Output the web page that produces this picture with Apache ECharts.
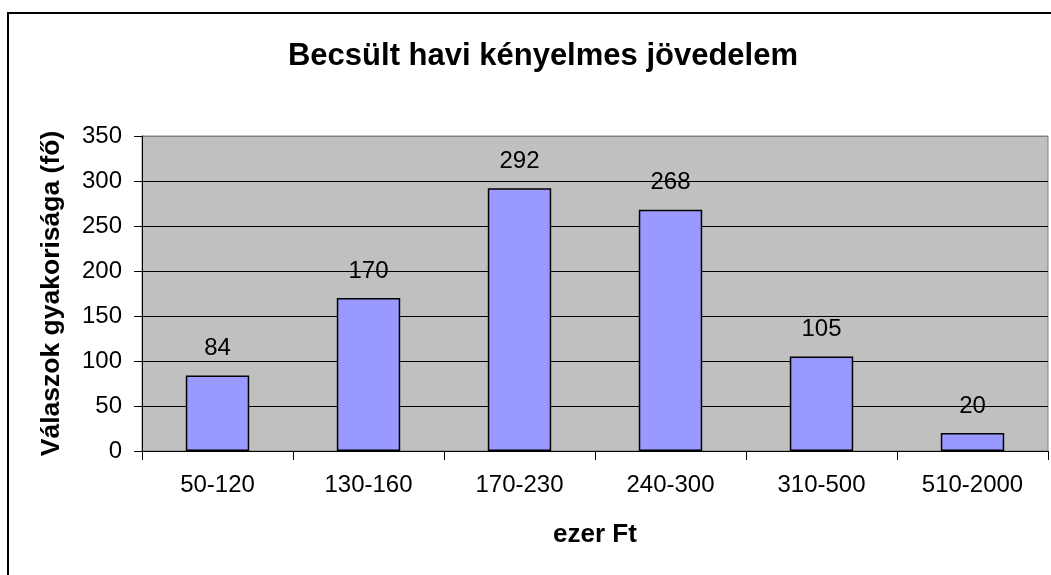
<!doctype html>
<html>
<head>
<meta charset="utf-8">
<title>Becsült havi kényelmes jövedelem</title>
<script src="https://cdn.jsdelivr.net/npm/echarts@6/dist/echarts.min.js"></script>
<style>
  html, body { margin: 0; padding: 0; background: #fff; }
  #chart { width: 1051px; height: 575px; }
</style>
</head>
<body>
<div id="chart"></div>
<script>
var titleText = 'Becsült havi kényelmes jövedelem';
var categories = ['50-120', '130-160', '170-230', '240-300', '310-500', '510-2000'];
var answers = [84, 170, 292, 268, 105, 20];
var xName = 'ezer Ft';
var yName = 'Válaszok gyakorisága (fő)';

var font = 'Liberation Sans, Arial, sans-serif';

var chart = echarts.init(document.getElementById('chart'), null, { renderer: 'canvas' });

chart.setOption({
    animation: false,
    backgroundColor: '#fff',
    textStyle: { fontFamily: font, color: '#000' },
    title: {
        text: titleText,
        left: 538,
        textAlign: 'center',
        top: 36,
        textStyle: { fontFamily: font, fontSize: 31, fontWeight: 'bold', color: '#000' }
    },
    // outer frame of the chart area, runs off the right and bottom edge
    graphic: [{
        type: 'rect',
        shape: { x: 8, y: 13, width: 1200, height: 700 },
        style: { fill: null, stroke: '#000', lineWidth: 2 },
        silent: true,
        z: -1
    }],
    grid: {
        left: 142, right: 3, top: 136, bottom: 124,
        show: true,
        backgroundColor: '#C0C0C0',
        borderColor: '#808080',
        borderWidth: 1
    },
    xAxis: {
        type: 'category',
        data: categories,
        name: xName,
        nameLocation: 'middle',
        nameGap: 71,
        nameTextStyle: { fontFamily: font, fontSize: 26, fontWeight: 'bold', color: '#000' },
        axisLine: { lineStyle: { color: '#000', width: 1 } },
        axisTick: { show: true, length: 9, lineStyle: { color: '#000' } },
        axisLabel: { margin: 22, fontFamily: font, fontSize: 24, color: '#000' },
        splitLine: { show: false }
    },
    yAxis: {
        type: 'value',
        min: 0,
        max: 350,
        interval: 50,
        name: yName,
        nameLocation: 'middle',
        nameGap: 77,
        nameTextStyle: { fontFamily: font, fontSize: 26.5, fontWeight: 'bold', color: '#000' },
        axisLine: { show: true, lineStyle: { color: '#000', width: 1 } },
        axisTick: { show: true, length: 8, lineStyle: { color: '#000' } },
        axisLabel: { margin: 20, fontFamily: font, fontSize: 24, color: '#000' },
        splitLine: {
            show: true,
            lineStyle: { color: ['#000', '#000', '#000', '#000', '#000', '#000', '#000', '#808080'], width: 1 }
        }
    },
    series: [{
        type: 'bar',
        data: answers,
        barCategoryGap: '58%',
        itemStyle: { color: '#9999FF', borderColor: '#000', borderWidth: 1.5 },
        label: {
            show: true,
            position: 'top',
            distance: 15,
            fontFamily: font,
            fontSize: 24,
            color: '#000'
        }
    }]
});
</script>
</body>
</html>
